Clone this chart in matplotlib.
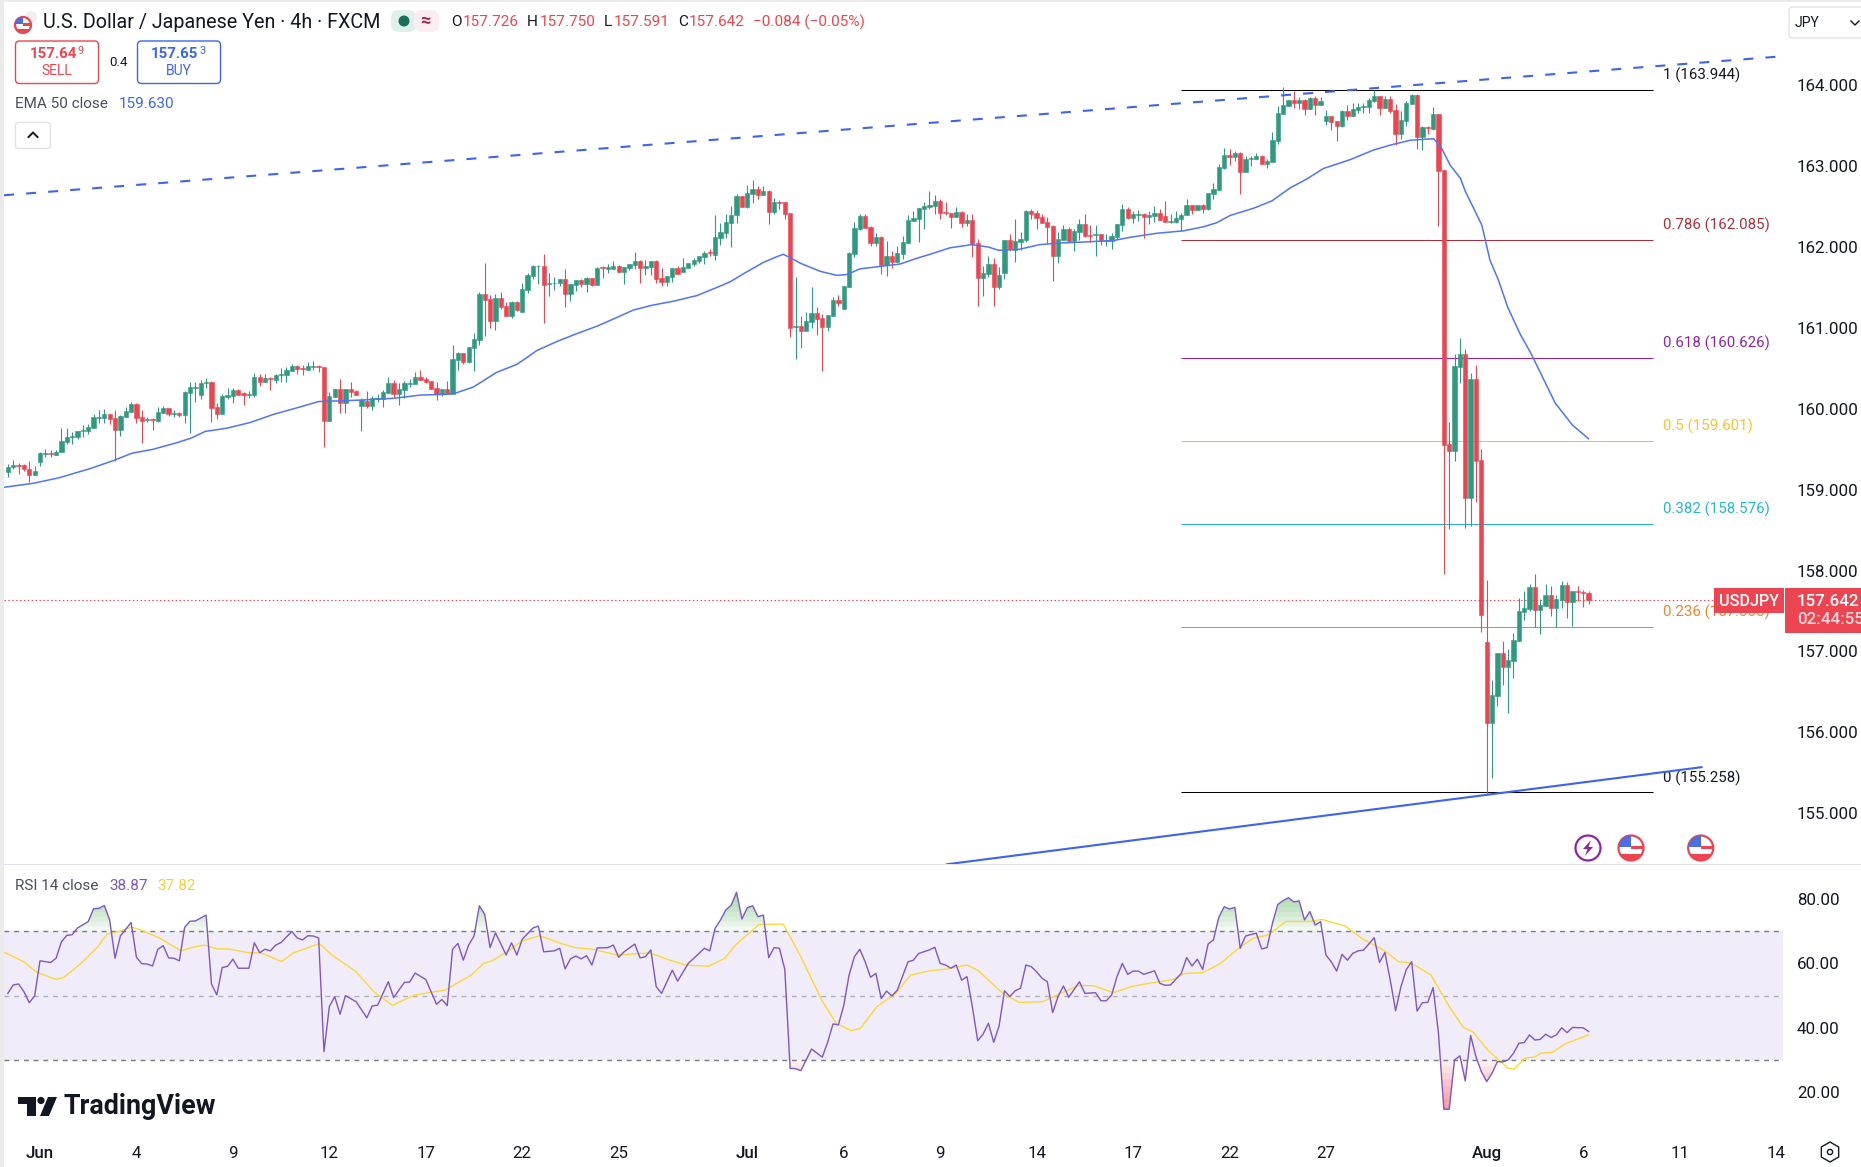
import matplotlib
matplotlib.use("Agg")
import matplotlib.pyplot as plt
import numpy as np
from matplotlib.patches import Circle, FancyBboxPatch, Polygon, Rectangle, RegularPolygon

plt.rcParams['font.family'] = ['Roboto', 'DejaVu Sans']

# 4h candles, bar 0 is the "Jun" tick
first_bar = -6
opens = [159.22,159.28,159.30,159.30,159.26,159.18,159.34,159.44,159.45,159.43,
    159.47,159.59,159.65,159.65,159.72,159.73,159.76,159.89,159.89,159.94,
    159.89,159.74,159.90,159.96,160.06,159.90,159.86,159.87,159.85,159.95,
    160.01,159.94,159.95,159.92,160.20,160.26,160.17,160.32,160.33,160.02,
    159.94,160.15,160.16,160.23,160.19,160.17,160.17,160.39,160.33,160.38,
    160.36,160.42,160.42,160.47,160.53,160.50,160.48,160.52,160.53,160.52,
    159.85,160.15,160.25,160.07,160.25,160.22,160.04,160.10,160.04,160.12,
    160.12,160.20,160.32,160.18,160.23,160.31,160.31,160.39,160.37,160.34,
    160.26,160.18,160.25,160.18,160.60,160.69,160.58,160.75,160.85,161.42,
    161.36,161.09,161.37,161.27,161.15,161.32,161.20,161.47,161.64,161.76,
    161.77,161.54,161.55,161.56,161.61,161.42,161.53,161.59,161.54,161.62,
    161.53,161.75,161.73,161.73,161.77,161.69,161.74,161.78,161.83,161.74,
    161.75,161.83,161.62,161.57,161.63,161.74,161.69,161.74,161.79,161.83,
    161.88,161.94,161.90,162.11,162.17,162.30,162.39,162.63,162.50,162.66,
    162.72,162.64,162.69,162.43,162.56,162.56,162.42,161.01,161.02,160.96,
    161.07,161.19,161.12,161.01,161.15,161.35,161.24,161.51,161.91,162.22,
    162.38,162.25,162.05,162.13,161.78,161.89,161.82,161.92,162.05,162.32,
    162.35,162.47,162.50,162.51,162.57,162.43,162.42,162.37,162.43,162.30,
    162.34,162.05,161.62,161.67,161.79,161.50,161.68,162.09,161.96,162.06,
    162.09,162.45,162.42,162.37,162.31,162.26,161.89,162.09,162.22,162.08,
    162.19,162.29,162.15,162.15,162.16,162.08,162.08,162.13,162.27,162.47,
    162.36,162.40,162.41,162.37,162.38,162.42,162.38,162.31,162.31,162.35,
    162.39,162.52,162.46,162.52,162.47,162.66,162.71,162.98,163.14,163.11,
    163.16,162.93,163.09,163.09,163.13,163.03,163.05,163.31,163.65,163.74,
    163.82,163.78,163.82,163.71,163.84,163.76,163.56,163.62,163.56,163.50,
    163.68,163.62,163.70,163.73,163.73,163.81,163.87,163.72,163.83,163.69,
    163.40,163.56,163.77,163.88,163.36,163.48,163.46,163.65,162.95,159.56,
    159.48,160.52,160.68,158.90,160.37,159.37,157.12,156.12,156.45,156.98,
    156.81,156.88,157.13,157.49,157.53,157.80,157.51,157.56,157.70,157.54,
    157.64,157.82,157.61,157.75,157.74,157.726]
highs = [159.32,159.37,159.33,159.32,159.36,159.29,159.47,159.50,159.49,159.49,
    159.76,159.76,159.71,159.73,159.80,159.81,159.94,159.98,160.00,159.94,
    159.99,159.92,160.02,160.08,160.07,159.99,159.90,159.89,160.02,160.04,
    160.01,159.99,159.96,160.22,160.33,160.33,160.36,160.38,160.34,160.07,
    160.18,160.26,160.26,160.25,160.21,160.22,160.44,160.43,160.43,160.39,
    160.43,160.51,160.52,160.56,160.54,160.54,160.58,160.59,160.54,160.52,
    160.21,160.25,160.37,160.25,160.33,160.23,160.13,160.22,160.16,160.18,
    160.23,160.39,160.36,160.32,160.34,160.37,160.46,160.48,160.39,160.34,
    160.33,160.25,160.35,160.79,160.70,160.69,160.76,160.94,161.44,161.80,
    161.41,161.42,161.44,161.32,161.33,161.33,161.56,161.68,161.78,161.78,
    161.91,161.68,161.63,161.61,161.73,161.54,161.59,161.61,161.63,161.62,
    161.75,161.77,161.79,161.83,161.78,161.75,161.79,161.94,161.84,161.84,
    161.83,161.84,161.74,161.64,161.74,161.77,161.87,161.80,161.87,161.89,
    161.95,161.98,162.40,162.30,162.41,162.51,162.66,162.63,162.77,162.83,
    162.76,162.76,162.71,162.61,162.58,162.56,162.42,161.63,161.15,161.20,
    161.51,161.26,161.17,161.16,161.38,161.41,161.52,161.94,162.31,162.41,
    162.41,162.26,162.17,162.14,162.08,161.95,162.01,162.14,162.40,162.45,
    162.48,162.56,162.69,162.64,162.60,162.56,162.42,162.50,162.45,162.41,
    162.41,162.10,161.77,161.89,161.87,161.75,162.09,162.16,162.35,162.19,
    162.46,162.47,162.46,162.41,162.37,162.27,162.19,162.27,162.25,162.22,
    162.35,162.41,162.27,162.27,162.16,162.16,162.17,162.29,162.53,162.50,
    162.45,162.46,162.42,162.45,162.51,162.47,162.57,162.41,162.45,162.42,
    162.59,162.52,162.52,162.53,162.67,162.79,163.03,163.23,163.21,163.19,
    163.18,163.13,163.13,163.16,163.14,163.09,163.42,163.74,163.98,163.82,
    163.93,163.86,163.83,163.86,163.87,163.86,163.70,163.62,163.56,163.70,
    163.76,163.78,163.78,163.78,163.84,163.94,163.87,163.87,163.87,163.77,
    163.68,163.81,163.89,163.89,163.50,163.50,163.73,163.65,162.95,159.84,
    160.68,160.88,160.74,160.44,160.54,159.50,157.89,156.65,156.98,157.13,
    157.03,157.23,157.66,157.75,157.84,157.96,157.65,157.84,157.81,157.70,
    157.87,157.86,157.75,157.81,157.76,157.75]
lows = [159.16,159.25,159.20,159.23,159.10,159.18,159.29,159.40,159.40,159.43,
    159.47,159.57,159.57,159.63,159.65,159.69,159.76,159.82,159.83,159.81,
    159.36,159.66,159.90,159.96,159.83,159.58,159.84,159.74,159.84,159.95,
    159.91,159.90,159.90,159.82,159.70,160.08,160.12,160.26,159.84,159.87,
    159.94,160.12,160.07,160.17,160.05,160.13,160.15,160.28,160.33,160.23,
    160.32,160.33,160.33,160.47,160.43,160.42,160.48,160.48,160.45,159.53,
    159.85,160.15,159.95,159.95,160.15,160.17,159.73,160.01,159.99,160.09,
    160.02,160.20,160.15,160.05,160.13,160.27,160.31,160.36,160.32,160.25,
    160.11,160.16,160.18,160.18,160.48,160.56,160.57,160.47,160.79,160.90,
    161.00,160.98,161.23,161.15,161.12,161.21,161.20,161.43,161.61,161.54,
    161.06,161.40,161.47,161.52,161.26,161.33,161.46,161.51,161.44,161.52,
    161.53,161.62,161.68,161.73,161.69,161.54,161.72,161.73,161.56,161.66,
    161.66,161.56,161.52,161.52,161.57,161.67,161.69,161.74,161.77,161.80,
    161.79,161.89,161.84,162.03,162.11,162.00,162.30,162.50,162.48,162.55,
    162.60,162.64,162.29,162.41,162.47,162.35,160.89,160.62,160.75,160.96,
    161.00,160.91,160.47,160.96,161.15,161.27,161.24,161.51,161.88,162.21,
    162.24,162.01,162.01,161.67,161.64,161.74,161.82,161.85,162.05,162.32,
    162.06,162.22,162.47,162.41,162.35,162.40,162.24,162.37,162.25,162.26,
    161.88,161.27,161.40,161.63,161.27,161.48,161.61,161.95,161.82,161.96,
    162.06,162.35,162.22,162.30,162.04,161.58,161.80,162.09,162.06,161.95,
    162.09,162.13,162.06,161.89,162.03,162.01,161.98,162.10,162.20,162.35,
    162.30,162.32,162.11,162.29,162.31,162.34,162.31,162.30,162.30,162.20,
    162.39,162.41,162.46,162.42,162.46,162.60,162.71,162.97,163.02,163.06,
    162.66,162.93,163.00,163.09,163.03,162.98,163.05,163.27,163.65,163.74,
    163.72,163.71,163.63,163.71,163.63,163.76,163.51,163.45,163.31,163.48,
    163.57,163.62,163.66,163.66,163.66,163.79,163.63,163.72,163.66,163.26,
    163.34,163.50,163.77,163.21,163.20,163.40,163.45,162.26,157.96,158.52,
    159.36,160.32,158.53,158.55,158.85,157.24,155.24,155.43,156.33,156.59,
    156.24,156.67,157.13,157.39,157.50,157.30,157.22,157.56,157.44,157.30,
    157.54,157.41,157.32,157.63,157.55,157.591]
closes = [159.28,159.30,159.29,159.25,159.18,159.23,159.45,159.45,159.44,159.47,
    159.60,159.65,159.66,159.73,159.74,159.78,159.90,159.90,159.94,159.87,
    159.74,159.91,159.97,160.06,159.89,159.85,159.88,159.86,159.96,160.01,
    159.94,159.95,159.92,160.21,160.27,160.27,160.32,160.33,160.01,159.94,
    160.16,160.17,160.23,160.17,160.17,160.18,160.39,160.33,160.38,160.37,
    160.42,160.43,160.48,160.53,160.49,160.49,160.53,160.53,160.52,159.85,
    160.16,160.25,160.07,160.25,160.21,160.17,160.11,160.04,160.13,160.13,
    160.21,160.32,160.18,160.25,160.32,160.32,160.39,160.36,160.33,160.25,
    160.18,160.25,160.18,160.62,160.69,160.58,160.76,160.86,161.42,161.35,
    161.09,161.37,161.26,161.15,161.32,161.22,161.48,161.66,161.77,161.77,
    161.53,161.56,161.56,161.61,161.42,161.54,161.59,161.54,161.62,161.53,
    161.74,161.74,161.75,161.77,161.69,161.75,161.79,161.83,161.74,161.77,
    161.83,161.61,161.57,161.64,161.74,161.67,161.75,161.80,161.84,161.89,
    161.93,161.93,162.12,162.19,162.31,162.40,162.63,162.50,162.67,162.72,
    162.64,162.69,162.43,162.56,162.55,162.41,161.00,161.02,160.96,161.09,
    161.19,161.11,161.01,161.16,161.35,161.31,161.52,161.93,162.24,162.38,
    162.24,162.05,162.13,161.78,161.89,161.82,161.93,162.06,162.34,162.36,
    162.48,162.51,162.52,162.57,162.42,162.42,162.37,162.43,162.30,162.34,
    162.04,161.62,161.68,161.79,161.50,161.65,162.09,161.98,162.08,162.10,
    162.45,162.41,162.36,162.30,162.25,161.89,162.10,162.22,162.08,162.20,
    162.29,162.14,162.14,162.16,162.08,162.09,162.14,162.29,162.47,162.36,
    162.41,162.41,162.37,162.40,162.42,162.34,162.31,162.32,162.36,162.40,
    162.52,162.46,162.52,162.47,162.67,162.72,162.99,163.14,163.11,163.16,
    162.93,163.09,163.10,163.13,163.03,163.06,163.32,163.66,163.76,163.82,
    163.78,163.82,163.71,163.84,163.76,163.81,163.62,163.55,163.50,163.68,
    163.62,163.71,163.73,163.74,163.82,163.87,163.72,163.83,163.68,163.40,
    163.57,163.78,163.88,163.36,163.48,163.47,163.65,162.94,159.55,159.48,
    160.53,160.68,158.90,160.37,159.36,157.45,156.12,156.46,156.98,156.81,
    156.90,157.14,157.50,157.54,157.80,157.51,157.58,157.70,157.54,157.65,
    157.82,157.61,157.75,157.74,157.72,157.642]

ema_bar = [-6.7,-1.2,3.7,9.3,13.7,17.1,21.1,25.5,28.3,30.8,34.8,39.2,43.5,47.3,52,56.6,60.4,66,71,76,77.8,
    80.9,82.8,85.2,89,90.8,92.7,96.4,100.2,103.9,107,110.7,114.2,118.2,122.6,126.3,128.8,131.3,135,137.5,
    138.7,140,141.9,145.6,148.7,150.6,153,156.8,160.5,163.6,166.1,169.8,173.9,177,178.9,182.6,186.6,190.4,
    194.1,200.3,203.4,208.4,213.4,217.1,219.6,222.1,226.5,229.9,233.3,236.4,239.5,244.5,248.9,252,255.7,
    260.1,261.6,263.2,265.1,266,267.7,269.1,270.6,272.2,273.9,276.2,278.3,282.8,286,289]
ema_val = [159.03,159.08,159.15,159.26,159.36,159.45,159.50,159.58,159.64,159.72,159.76,159.83,159.93,160.00,160.09,160.10,160.11,160.13,160.17,160.18,160.20,
    160.27,160.35,160.45,160.55,160.63,160.72,160.83,160.93,161.02,161.11,161.22,161.28,161.33,161.40,161.50,161.57,161.67,161.81,161.88,
    161.91,161.87,161.80,161.70,161.65,161.66,161.73,161.76,161.79,161.86,161.91,161.99,162.03,162.00,161.96,161.97,162.03,162.05,
    162.06,162.08,162.12,162.17,162.20,162.25,162.30,162.39,162.48,162.57,162.73,162.84,162.97,163.08,163.20,163.26,163.32,
    163.34,163.22,163.01,162.85,162.69,162.46,162.27,161.84,161.59,161.26,160.93,160.68,160.07,159.80,159.63]

rsi_bar = [-6,-5,-4,-3,-2,-1,0,2,3,4,5,6,7,9,10,11,12,13,14,15,17,18,19,20,21,22,23,24,25,26,27,28,29,31,32,33,34,35,36,37,39,40,41,42,43,44,45,47,48,49,50,51,52,53,54,55,56,57,59,61,62,63,65,66,68,69,70,72,74,75,76,77,78,79,80,81,82,83,84,85,87,88,89,90,92,93,94,96,97,98,99,100,101,102,103,104,106,107,108,109,111,112,113,114,115,116,118,119,121,124,125,126,127,128,129,130,131,132,133,134,135,136,137,138,139,140,141,142,144,146,147,148,149,150,151,152,153,154,155,156,157,158,159,160,162,163,164,166,
    167,168,169,170,171,172,173,174,175,176,177,178,179,180,181,182,183,184,185,186,187,188,189,190,191,192,194,195,197,198,199,200,201,202,203,204,205,206,208,209,210,211,213,214,215,216,217,218,219,220,221,222,223,224,225,227,228,229,230,231,232,233,234,235,236,237,238,239,240,241,242,243,244,245,246,247,248,249,250,251,252,253,254,255,256,257,258,259,260,261,262,263,264,265,266,267,268,269,270,271,272,273,274,275,276,277,278,279,280,281,282,283,284,285,286,288,289]
rsi_val = [50.7,53.3,53.6,51.2,47.8,49.9,60.8,60.3,61.6,66.7,68.7,68.9,71.0,73.0,77.0,77.1,78.0,73.5,61.6,68.5,72.7,61.9,59.9,59.8,59.2,64.4,65.5,61.7,61.6,60.8,71.2,73.1,73.2,75.0,53.6,50.2,58.7,59.1,61.3,58.5,58.5,66.4,63.3,64.4,63.9,65.7,66.5,69.9,67.9,67.3,68.6,68.5,67.9,32.6,46.6,49.7,44.2,50.0,48.1,43.1,46.8,47.0,54.3,49.4,54.1,54.2,57.0,55.0,47.3,48.8,46.9,64.4,66.2,61.0,65.7,68.5,77.9,75.2,64.9,69.5,62.6,66.4,62.6,67.5,71.0,71.6,63.6,63.9,64.7,58.3,61.4,62.3,61.4,62.4,59.5,64.8,64.9,65.7,61.9,63.6,66.0,61.7,62.1,64.2,52.8,50.7,57.9,54.5,60.0,64.7,63.9,70.9,73.5,76.6,78.1,82.1,73.8,77.3,77.9,74.5,75.0,61.8,64.9,64.7,58.2,27.4,27.3,26.7,33.4,30.9,35.5,41.2,40.9,46.9,56.4,62.1,64.4,60.5,55.7,56.9,49.1,51.4,49.9,51.7,60.5,61.0,63.1,64.2,
    65.0,60.0,59.5,58.5,59.5,54.8,55.9,46.6,36.0,38.0,41.4,35.5,40.6,51.5,49.7,51.5,52.3,59.5,59.0,57.4,55.4,54.3,44.7,49.7,53.0,49.5,54.3,50.7,50.9,48.4,48.4,50.2,55.9,60.0,56.6,57.6,57.6,56.6,57.7,53.8,53.2,53.3,56.9,61.8,59.2,61.3,58.1,66.0,67.3,74.3,77.6,76.9,77.4,64.7,68.5,69.4,64.5,64.9,72.4,78.3,79.5,80.4,79.1,79.4,73.5,76.1,71.9,73.0,62.6,60.5,57.6,62.8,61.0,63.1,63.9,64.1,66.0,68.0,60.3,63.4,54.8,45.3,52.8,58.1,60.5,45.2,47.8,47.9,52.5,38.3,14.7,14.7,30.0,31.3,23.5,37.6,31.0,26.4,23.3,25.9,29.5,29.4,30.0,32.1,35.2,35.4,37.8,36.2,36.4,38.0,37.0,37.8,40.0,38.5,40.1,40.0,38.87]

rsi_ma_bar = [-6.6,-3,-0.8,3,4.5,7.5,10.8,12.5,14.7,17.1,19.1,22.4,26.3,28.5,30.7,33,35.2,39,41.2,45.1,47.3,50.1,52.1,54.5,59,62.3,65.8,67.8,70,72.8,75.6,77.8,80.5,82.8,84.4,87.7,90,93.3,97.2,99.9,103.2,107.7,113.8,116.5,120.4,124.8,127.8,129.8,134.2,138.7,142,145.9,148.6,151.4,153.1,156.2,159.7,162.5,166.1,
    169.4,173,175,179.9,182.7,187.1,190.5,193.8,196.5,200.4,203.7,207.6,211.5,213.7,217,220.3,223.7,226.4,229.2,232.5,237,239.2,243.6,246.9,250.8,253.6,255.8,259.6,263,265.7,267.4,270.2,274,275.1,277.1,279,280.1,282.3,284.6,287.3,289]
rsi_ma_val = [63.4,60.5,57.4,55.0,55.7,59.8,65.2,69.1,69.9,71.3,70.2,67.8,63.9,65.0,65.7,64.5,64.5,63.3,63.3,60.6,63.3,64.9,66.2,62.6,57.4,51.2,46.9,48.6,50.2,51.0,51.7,53.8,56.4,60.0,60.8,64.2,67.0,68.6,66.2,64.9,64.4,62.6,63.3,61.6,59.5,59.1,61.6,65.7,72.1,72.2,62.1,48.6,41.4,39.1,39.8,46.6,50.7,56.4,57.7,
    58.3,59.5,57.9,50.4,47.9,48.1,50.7,53.1,53.1,50.9,52.8,54.0,55.0,56.9,57.1,60.0,64.7,67.8,68.8,73.0,73.0,73.7,71.6,67.5,64.1,60.5,60.2,56.4,46.6,40.0,38.8,33.1,27.4,27.2,30.5,31.0,32.1,32.4,35.0,36.7,37.82]

fib_levels = [1, 0.786, 0.618, 0.5, 0.382, 0.236, 0]
fib_prices = [163.944, 162.085, 160.626, 159.601, 158.576, 157.308, 155.258]
fib_colors = ['#000000', '#ab2f3e', '#8e24aa', '#fbc02d', '#26b6cf', '#f0842c', '#000000']
fib_bars = [213, 301]
fib_label_bar = 302.9

upper_trend_bars = [-6.7, 325.5]
upper_trend_prices = [162.64, 164.36]
lower_trend_bars = [169.3, 310.1]
lower_trend_prices = [154.37, 155.57]

last_price = 157.642
price_ticks = [155, 156, 157, 158, 159, 160, 161, 162, 163, 164]
rsi_ticks = [20, 40, 60, 80]
date_ticks = [0, 18, 36, 54, 72, 90, 108, 132, 150, 168, 186, 204, 222, 240, 270, 288, 306, 324]
date_labels = ['Jun', '4', '9', '12', '17', '22', '25', 'Jul', '6', '9', '14', '17', '22', '27', 'Aug', '6', '11', '14']

UP = '#2e9a80'
DOWN = '#ec4450'
BLUE = '#3d63f5'
INK = '#131722'
W, H = 1861, 1167

opens, highs, lows, closes = map(np.array, (opens, highs, lows, closes))
bars = np.arange(first_bar, first_bar + len(opens))
rsi_bar = np.array(rsi_bar)
rsi_val = np.array(rsi_val)

fig = plt.figure(figsize=(W / 100, H / 100), dpi=100, facecolor='white')


def pane(top, bottom):
    a = fig.add_axes([4 / W, 1 - bottom / H, 1779 / W, (bottom - top) / H])
    a.set_xlim(-6.72, 325.3)
    for s in a.spines.values():
        s.set_visible(False)
    a.yaxis.tick_right()
    a.tick_params(length=0, labelsize=12.2, labelcolor=INK, pad=10)
    return a


# price pane
ax = pane(0, 864)
ax.set_ylim(154.373, 165.054)
ax.set_xticks([])
ax.set_yticks(price_ticks)
ax.set_yticklabels(['%.3f' % p for p in price_ticks])

for lev, p, c in zip(fib_levels, fib_prices, fib_colors):
    ax.plot(fib_bars, [p, p], color=c, lw=0.75, zorder=2, solid_capstyle='butt')
    ax.annotate('%g (%.3f)' % (lev, p), (fib_label_bar, p), xytext=(0, 10.4), textcoords='offset points',
                color=c if c != '#000000' else INK, fontsize=10.8, va='center', ha='left', zorder=2)

ax.axhline(last_price, color=DOWN, lw=0.8, ls=(0, (1.3, 2.2)), zorder=1)
colors = np.where(closes >= opens, UP, DOWN)
ax.vlines(bars, lows, highs, colors=colors, lw=0.8, zorder=3)
ax.bar(bars, np.abs(closes - opens), bottom=np.minimum(opens, closes), width=0.8,
       color=colors, edgecolor=colors, linewidth=0.4, zorder=4)
ax.plot(ema_bar, ema_val, color='#4f74fb', lw=1.1, zorder=5)
ax.plot(upper_trend_bars, upper_trend_prices, color=BLUE, lw=1.5, ls=(0, (4.8, 5.8)), zorder=5)
ax.plot(lower_trend_bars, lower_trend_prices, color=BLUE, lw=1.5, zorder=5)

# rsi pane
rx = pane(865, 1133)
rx.set_ylim(7.33, 90.56)
rx.set_yticks(rsi_ticks)
rx.set_yticklabels(['%.2f' % r for r in rsi_ticks])
rx.set_xticks(date_ticks)
rx.set_xticklabels(date_labels)
rx.tick_params(axis='x', pad=9.5)
for t, lab in zip(rx.get_xticklabels(), date_labels):
    if not lab.isdigit():
        t.set_fontweight('medium')

rx.axhspan(30, 70, color='#f0ecf9', lw=0, zorder=1)
rx.axhline(70, color='#787b86', lw=1, ls=(0, (3.5, 3.5)), zorder=2)
rx.axhline(50, color='#b0b2bb', lw=1, ls=(0, (3.5, 3.5)), zorder=2)
rx.axhline(30, color='#787b86', lw=1, ls=(0, (3.5, 3.5)), zorder=2)
for t in np.arange(70, 82, 1.5):
    rx.fill_between(rsi_bar, t, rsi_val, where=rsi_val > t, interpolate=True,
                    color='#4caf50', alpha=0.07, lw=0, zorder=3)
for t in np.arange(30, 14, -2):
    rx.fill_between(rsi_bar, t, rsi_val, where=rsi_val < t, interpolate=True,
                    color='#f23645', alpha=0.08, lw=0, zorder=3)
rx.plot(rsi_ma_bar, rsi_ma_val, color='#fdd835', lw=1, zorder=4)
rx.plot(rsi_bar, rsi_val, color='#7e57c2', lw=1, zorder=5)

# everything around the chart, in pixels
ui = fig.add_axes([0, 0, 1, 1], zorder=10, facecolor='none')
ui.set_xlim(0, W)
ui.set_ylim(H, 0)
ui.axis('off')


def label(x, y, s, color=INK, size=11, **kw):
    kw.setdefault('va', 'center')
    ui.text(x, y, s, color=color, fontsize=size, **kw)


def flag(cx, cy, r):
    disc = Circle((cx, cy), r, fc='white', ec=DOWN, lw=1.6)
    ui.add_patch(disc)
    for x0, y0, w, h, c in [(cx, cy - r * 0.2, r, r * 0.3, DOWN), (cx - r, cy + r * 0.45, 2 * r, r, DOWN),
                            (cx - r, cy - r, r, r * 0.9, '#4a6fe3')]:
        st = Rectangle((x0, y0), w, h, fc=c, ec='none')
        ui.add_patch(st)
        st.set_clip_path(disc)


ui.add_patch(Rectangle((0, 0), 4, H, fc='#ebebeb', ec='none'))
ui.add_patch(Rectangle((0, 0), W, 1.5, fc='#ebebeb', ec='none'))
ui.add_patch(Rectangle((4, 863.5), W, 1.5, fc='#e0e3eb', ec='none'))

# header
ui.add_patch(Circle((31, 17), 6, fc='#f0f0f3', ec='none'))
flag(23, 25, 8)
label(43, 22.5, 'U.S. Dollar / Japanese Yen · 4h · FXCM', size=14.2)
ui.add_patch(FancyBboxPatch((391, 10), 25, 22, boxstyle='round,pad=0,rounding_size=8', fc='#dff0ea', ec='none'))
ui.add_patch(FancyBboxPatch((414, 10), 25, 22, boxstyle='round,pad=0,rounding_size=8', fc='#fbeef2', ec='none'))
ui.add_patch(Circle((404, 21), 5.5, fc='#1b6e5b', ec='none'))
label(425, 21, '≈', color='#a61e4d', size=13, ha='center', fontweight='bold')
for x, s, c in [(451, 'O', INK), (463, '157.726', DOWN), (527, 'H', INK), (540, '157.750', DOWN),
                (604, 'L', INK), (614, '157.591', DOWN), (678, 'C', INK), (689, '157.642', DOWN),
                (753, '−0.084 (−0.05%)', DOWN)]:
    label(x, 22.5, s, color=c, size=11.1)

# sell / buy
ui.add_patch(FancyBboxPatch((15.5, 41), 83, 42.5, boxstyle='round,pad=0,rounding_size=4', fc='white', ec=DOWN, lw=1))
ui.add_patch(FancyBboxPatch((137.5, 41), 83, 42.5, boxstyle='round,pad=0,rounding_size=4', fc='white', ec=BLUE, lw=1))
label(29.5, 54, '157.64', color=DOWN, size=10.8, fontweight='bold')
label(78, 51.5, '9', color=DOWN, size=8)
label(57, 71, 'SELL', color=DOWN, size=10, ha='center')
label(118, 62, '0.4', size=9.5, ha='center')
label(151, 54, '157.65', color=BLUE, size=10.8, fontweight='bold')
label(199, 51.5, '3', color=BLUE, size=8)
label(179, 71, 'BUY', color=BLUE, size=10, ha='center')

label(15, 104.5, 'EMA 50 close', color='#4a4e59', size=11)
label(118.5, 104.5, '159.630', color=BLUE, size=11)
ui.add_patch(FancyBboxPatch((15.5, 122.5), 35, 26, boxstyle='round,pad=0,rounding_size=3', fc='white', ec='#e0e3eb', lw=1))
ui.plot([28.5, 33, 37.5], [137, 132.5, 137], color=INK, lw=1.4)

# top right unit box
ui.add_patch(FancyBboxPatch((1789, 7), 90, 31, boxstyle='round,pad=0,rounding_size=4', fc='white', ec='#e0e3eb', lw=1))
label(1795, 23, 'JPY', size=10)
ui.plot([1851, 1855, 1859], [21, 25, 21], color=INK, lw=1)

# last price tags
ui.add_patch(Rectangle((1714, 588), 70, 25, fc=DOWN, ec='none'))
ui.add_patch(Rectangle((1785, 588), 76, 45, fc=DOWN, ec='none'))
label(1749, 601, 'USDJPY', color='white', size=11.6, ha='center', fontweight='medium')
label(1797, 601, '157.642', color='white', size=12.2, fontweight='medium')
label(1797, 620, '02:44:55', color='#fbd9dc', size=12.2, fontweight='medium')

# events
ui.add_patch(Circle((1588, 848), 12.5, fc='white', ec='#8e24aa', lw=1.6))
ui.add_patch(Polygon([(1591, 840), (1583, 849), (1587.5, 849), (1585, 856), (1593, 847), (1588.5, 847)], fc='#8e24aa', ec='none'))
flag(1631, 848, 12.5)
flag(1700.7, 848, 12.5)

# rsi legend
label(15, 886.5, 'RSI 14 close', color='#4a4e59', size=11)
label(109, 886.5, '38.87', color='#7e57c2', size=11)
label(157, 886.5, '37.82', color='#f5cf3a', size=11)

# logo
ui.add_patch(Polygon([(18, 1097), (36, 1097), (36, 1116), (27, 1116), (27, 1104), (18, 1104)], fc=INK, ec='none'))
ui.add_patch(Circle((41, 1100.5), 3.6, fc=INK, ec='none'))
ui.add_patch(Polygon([(48, 1097), (57, 1097), (49, 1116), (40, 1116)], fc=INK, ec='none'))
label(64, 1106.5, 'TradingView', size=19.4, fontweight='bold')

# settings
ui.add_patch(RegularPolygon((1830, 1152), 6, radius=10, fc='white', ec=INK, lw=1))
ui.add_patch(Circle((1830, 1152), 2.6, fc='white', ec=INK, lw=1))

fig.savefig('out.png', dpi=100)
